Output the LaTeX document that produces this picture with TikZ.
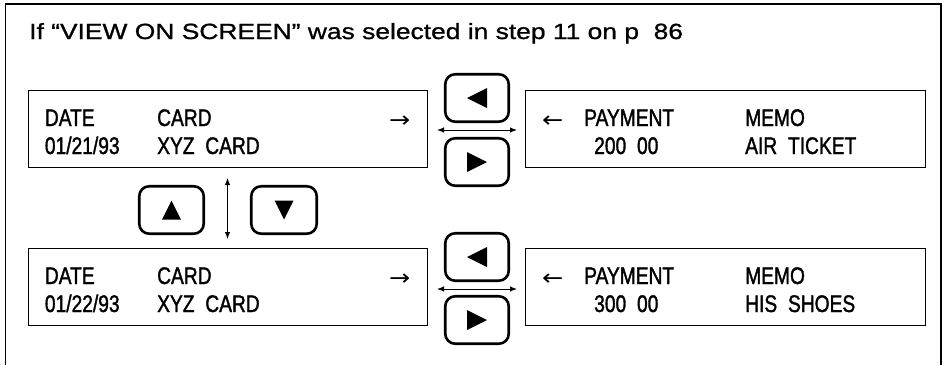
\documentclass[tikz,border=0pt]{standalone}
\usepackage{fontspec}
\setmainfont{Liberation Sans}
\newfontfamily\lcdfont[FakeStretch=0.8,FakeBold=1.4]{Liberation Sans}
\newfontfamily\arrowfont[FakeStretch=1.15]{DejaVu Sans}
\newfontfamily\titlefont[FakeStretch=1.2,FakeBold=1]{Liberation Sans}
\usetikzlibrary{arrows.meta,calc}
\newcommand\wsp{\hspace{0.45em}}
\tikzset{
  lcd/.style={draw, line width=1.4pt, minimum width=398.6pt, minimum height=76.6pt, inner sep=0pt},
  keybtn/.style={draw, line width=2.6pt, rounded corners=10pt, minimum width=63.5pt, minimum height=47.5pt, inner sep=0pt},
  txt/.style={anchor=base west, inner sep=0pt, font=\lcdfont\fontsize{24}{28}\selectfont},
  arr/.style={anchor=base west, inner sep=0pt, font=\arrowfont\fontsize{22}{26}\selectfont},
  dblarrow/.style={{Latex[length=7pt,width=5.5pt]}-{Latex[length=7pt,width=5.5pt]}, line width=1pt},
  frame/.style={line width=1.5pt}
}
\newcommand\triLeft[1]{\fill ([xshift=-10pt]#1.center) -- ([xshift=10pt,yshift=10pt]#1.center) -- ([xshift=10pt,yshift=-10pt]#1.center) -- cycle;}
\newcommand\triRight[1]{\fill ([xshift=10pt]#1.center) -- ([xshift=-10pt,yshift=10pt]#1.center) -- ([xshift=-10pt,yshift=-10pt]#1.center) -- cycle;}
\newcommand\triUp[1]{\fill ([yshift=9.5pt]#1.center) -- ([xshift=9.5pt,yshift=-9.5pt]#1.center) -- ([xshift=-9.5pt,yshift=-9.5pt]#1.center) -- cycle;}
\newcommand\triDown[1]{\fill ([yshift=-9.5pt]#1.center) -- ([xshift=9.5pt,yshift=9.5pt]#1.center) -- ([xshift=-9.5pt,yshift=9.5pt]#1.center) -- cycle;}
\begin{document}
\begin{tikzpicture}[x=1pt,y=-1pt]
\useasboundingbox (0,0) rectangle (947,365);
% outer frame (open at the bottom)
\draw[frame] (5.5,365) -- (5.5,4) -- (941,4) -- (941,365);
% title
\node[anchor=base west, inner sep=0pt, font=\titlefont\fontsize{22}{26}\selectfont] (title) at (29,39)
  {If “VIEW ON SCREEN” was selected in step 11 on p\ \ 86};
% screens
\node[lcd] (tl) at (228,129) {};
\node[lcd, minimum width=399.6pt] (tr) at (725.5,129) {};
\node[lcd] (bl) at (228,287) {};
\node[lcd, minimum width=399.6pt] (br) at (725.5,287) {};
% keys
\node[keybtn] (kl1) at (477,98) {};
\node[keybtn] (kr1) at (477,162) {};
\node[keybtn] (kl2) at (477,257) {};
\node[keybtn] (kr2) at (477,320) {};
\node[keybtn, minimum width=64.5pt] (kup) at (171.5,210) {};
\node[keybtn, minimum width=65.5pt] (kdn) at (284,210) {};
\triLeft{kl1}
\triRight{kr1}
\triLeft{kl2}
\triRight{kr2}
\triUp{kup}
\triDown{kdn}
% connectors
\draw[dblarrow, shorten <=9pt, shorten >=8pt] ([yshift=-1pt]tl.east) -- ([yshift=-1pt]tr.west);
\draw[dblarrow, shorten <=9pt, shorten >=8pt] ([yshift=-2pt]bl.east) -- ([yshift=-2pt]br.west);
\coordinate (vmid) at ($(kup.east)!0.5!(kdn.west)$);
\draw[dblarrow, shorten <=10pt, shorten >=9pt] (vmid |- tl.south) -- (vmid |- bl.north);
% texts, top-left screen
\node[txt] (t1a) at (44.7,126) {DATE};
\node[txt] (t1b) at (157,126) {CARD};
\node[arr] (t1c) at (389,127) {→};
\node[txt] (t1d) at (44.7,154) {01/21/93};
\node[txt] (t1e) at (157,154) {XYZ\wsp CARD};
% top-right screen
\node[arr] (t2a) at (542,127) {←};
\node[txt] (t2b) at (584,126) {PAYMENT};
\node[txt] (t2c) at (745,126) {MEMO};
\node[txt] (t2d) at (594,154) {200\wsp 00};
\node[txt] (t2e) at (745,154) {AIR\wsp TICKET};
% bottom-left screen
\node[txt] (t3a) at (44.7,284) {DATE};
\node[txt] (t3b) at (157,284) {CARD};
\node[arr] (t3c) at (389,285) {→};
\node[txt] (t3d) at (44.7,312) {01/22/93};
\node[txt] (t3e) at (157,312) {XYZ\wsp CARD};
% bottom-right screen
\node[arr] (t4a) at (542,285) {←};
\node[txt] (t4b) at (584,284) {PAYMENT};
\node[txt] (t4c) at (745,284) {MEMO};
\node[txt] (t4d) at (594,312) {300\wsp 00};
\node[txt] (t4e) at (745,312) {HIS\wsp SHOES};
\end{tikzpicture}
\end{document}
